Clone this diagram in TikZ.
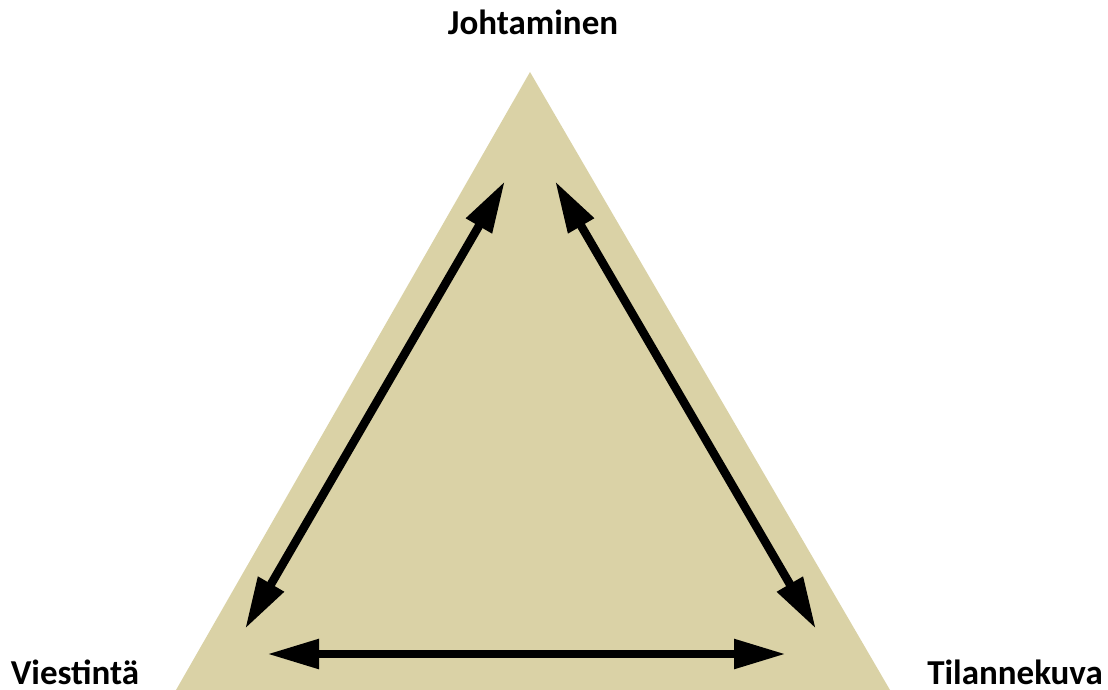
\documentclass[tikz,border=0pt]{standalone}
\usepackage{fontspec}
\setmainfont{Carlito}
\usetikzlibrary{arrows.meta}
\definecolor{tri}{RGB}{218,210,166}
\tikzset{
  lbl/.style={font=\fontsize{35}{35}\selectfont\bfseries, inner sep=0pt, anchor=base, text depth=0pt},
  dbl/.style={line width=8.5pt, {Triangle[length=52pt,width=28pt]}-{Triangle[length=52pt,width=28pt]}}
}
\begin{document}
\begin{tikzpicture}[x=1pt,y=-1pt]
\useasboundingbox (0,0) rectangle (1108,690);
\fill[tri] (530,72) -- (890,690) -- (176,690) -- cycle;
\node[lbl] (top) at (533,35) {Johtaminen};
\node[lbl] (left) at (75,684) {Viestintä};
\node[lbl] (right) at (1015,684) {Tilannekuva};
\coordinate (l1) at (505,181);
\coordinate (l2) at (245,629);
\coordinate (r1) at (555,181);
\coordinate (r2) at (816,629);
\coordinate (b1) at (267,654);
\coordinate (b2) at (786,654);
\draw[dbl] (l1) -- (l2);
\draw[dbl] (r1) -- (r2);
\draw[dbl] (b1) -- (b2);
\end{tikzpicture}
\end{document}
